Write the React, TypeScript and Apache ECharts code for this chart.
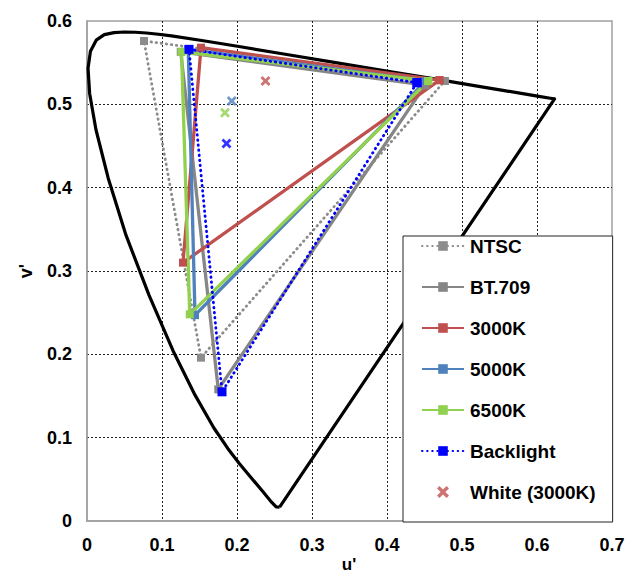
import React, { useEffect, useRef } from "react";
import * as echarts from "echarts";

// CIE 1976 spectral locus (u', v'), 380 nm → 700 nm, closed by the line of purples
const locusU = [0.2568, 0.2522, 0.2461, 0.2347, 0.2161, 0.2033, 0.1877, 0.169, 0.1441, 0.1147, 0.0828, 0.0521, 0.0282, 0.0119, 0.0035, 0.0014, 0.0046, 0.0123, 0.0231, 0.036, 0.0501, 0.0643, 0.0792, 0.0953, 0.1127, 0.1531, 0.2026, 0.2623, 0.3315, 0.4035, 0.4692, 0.5203, 0.5565, 0.583, 0.6005, 0.6199, 0.6234, 0.2568];
const locusV = [0.0166, 0.0169, 0.0226, 0.035, 0.0549, 0.0688, 0.0871, 0.1119, 0.151, 0.2044, 0.2708, 0.3427, 0.4117, 0.4698, 0.5131, 0.5432, 0.5638, 0.577, 0.5837, 0.5861, 0.5868, 0.5865, 0.5856, 0.5841, 0.5821, 0.5766, 0.5694, 0.5604, 0.5501, 0.5393, 0.5296, 0.5219, 0.5165, 0.5125, 0.5099, 0.507, 0.5065, 0.0166];

// Primaries (R, G, B) as [u', v']
const ntsc = [[0.477, 0.528], [0.076, 0.576], [0.152, 0.196]];
const bt709 = [[0.451, 0.523], [0.125, 0.563], [0.175, 0.158]];
const k3000 = [[0.470, 0.529], [0.152, 0.568], [0.128, 0.310]];
const k5000 = [[0.452, 0.528], [0.135, 0.566], [0.144, 0.247]];
const k6500 = [[0.455, 0.528], [0.126, 0.563], [0.137, 0.248]];
const backlight = [[0.440, 0.526], [0.136, 0.566], [0.180, 0.155]];

// White points
const white3000 = [[0.238, 0.528]];
const white5000 = [[0.193, 0.504]];
const white6500 = [[0.184, 0.490]];
const whiteBacklight = [[0.186, 0.453]];

const legendNames = ["NTSC", "BT.709", "3000K", "5000K", "6500K", "Backlight", "White (3000K)"];
const xTicks = { min: 0, max: 0.7, interval: 0.1 };
const yTicks = { min: 0, max: 0.6, interval: 0.1 };

const CROSS = "path://M0,2L2,0L5,3L8,0L10,2L7,5L10,8L8,10L5,7L2,10L0,8L3,5Z";
const FONT = "'Liberation Sans', Arial, sans-serif";

const close = (pts: number[][]) => [...pts, pts[0]];

export default function App() {
  const ref = useRef<HTMLDivElement>(null);
  useEffect(() => {
    document.body.style.margin = "0";
    if (!ref.current) return;
    const chart = echarts.init(ref.current, null, { renderer: "svg" });

    const tri = (name: string, pts: number[][], color: string, dotted: boolean, width: number, size: number) => ({
      name,
      type: "line",
      data: close(pts),
      symbol: "rect",
      symbolSize: size,
      showSymbol: true,
      itemStyle: { color },
      lineStyle: dotted
        ? { color, width, type: [0.5, 4.6], cap: "round" }
        : { color, width },
      z: 3,
    });
    const wp = (name: string, pts: number[][], color: string) => ({
      name,
      type: "scatter",
      data: pts,
      symbol: CROSS,
      symbolSize: 10,
      itemStyle: { color },
      z: 4,
    });

    const tickLabel = {
      margin: 15,
      fontFamily: FONT,
      fontWeight: "bold",
      fontSize: 18,
      color: "#000",
      formatter: (v: number) => String(+v.toFixed(1)),
    };
    const split = {
      show: true,
      showMinLine: false,
      showMaxLine: false,
      lineStyle: { color: "#222", width: 1, type: [2, 2] },
    };

    chart.setOption({
      animation: false,
      backgroundColor: "#fff",
      grid: {
        left: 87,
        top: 21,
        width: 525,
        height: 500,
        show: true,
        borderColor: "#a0a0a0",
        borderWidth: 1.5,
        backgroundColor: "transparent",
      },
      xAxis: {
        type: "value",
        ...xTicks,
        axisLine: { show: true, lineStyle: { color: "#a0a0a0", width: 1.5 } },
        axisTick: { show: false },
        axisLabel: tickLabel,
        splitLine: split,
      },
      yAxis: {
        type: "value",
        ...yTicks,
        axisLine: { show: true, lineStyle: { color: "#a0a0a0", width: 1.5 } },
        axisTick: { show: false },
        axisLabel: tickLabel,
        splitLine: split,
      },
      legend: {
        orient: "vertical",
        left: 403,
        top: 236,
        data: legendNames,
        backgroundColor: "#fff",
        borderColor: "#222",
        borderWidth: 1,
        padding: [0, 17, 20, 18],
        itemWidth: 42,
        itemHeight: 12,
        itemGap: 21,
        textStyle: {
          fontFamily: FONT,
          fontWeight: "bold",
          fontSize: 19,
          lineHeight: 20,
          color: "#000",
          padding: [0, 0, 0, 1],
        },
        selectedMode: false,
      },
      graphic: [
        {
          type: "text",
          x: 349,
          y: 564,
          style: {
            text: "u'",
            fontFamily: FONT,
            fontWeight: "bold",
            fontSize: 17,
            fill: "#000",
            align: "center",
            verticalAlign: "middle",
          },
        },
        {
          type: "text",
          x: 26,
          y: 271,
          rotation: Math.PI / 2,
          style: {
            text: "v'",
            fontFamily: FONT,
            fontWeight: "bold",
            fontSize: 18,
            fill: "#000",
            align: "center",
            verticalAlign: "middle",
          },
        },
      ],
      series: [
        {
          name: "locus",
          type: "line",
          data: locusU.map((u, i) => [u, locusV[i]]),
          showSymbol: false,
          symbol: "none",
          lineStyle: { color: "#000", width: 3.2, join: "round" },
          z: 2,
        },
        tri("NTSC", ntsc, "#8c8c8c", true, 2.8, 8),
        tri("BT.709", bt709, "#868686", false, 3.3, 8),
        tri("3000K", k3000, "#c0504d", false, 3.3, 8),
        tri("5000K", k5000, "#4f81bd", false, 3.3, 8),
        tri("6500K", k6500, "#92d050", false, 3.3, 8),
        tri("Backlight", backlight, "#0000ff", true, 2.8, 9),
        wp("White (3000K)", white3000, "#c0504d"),
        wp("White (5000K)", white5000, "#4f81bd"),
        wp("White (6500K)", white6500, "#92d050"),
        wp("White (Backlight)", whiteBacklight, "#0000ff"),
      ],
    });
    return () => chart.dispose();
  }, []);
  return <div ref={ref} style={{ width: 633, height: 576 }} />;
}
